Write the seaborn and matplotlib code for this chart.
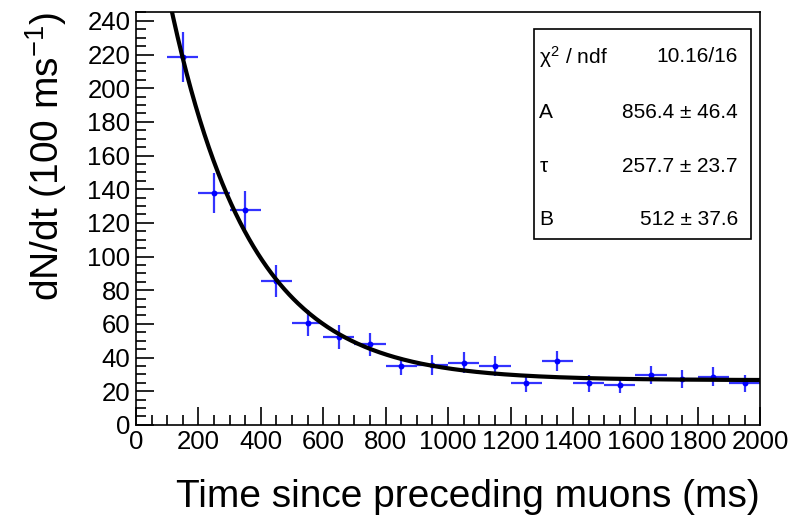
import numpy as np
import pandas as pd
import matplotlib
matplotlib.use("Agg")
import matplotlib.pyplot as plt
from matplotlib.ticker import MultipleLocator
import seaborn as sns

# binned decay times (bin centres, width 100 ms)
time_ms = [150, 250, 350, 450, 550, 650, 750, 850, 950, 1050,
           1150, 1250, 1350, 1450, 1550, 1650, 1750, 1850, 1950]
counts = [218.5, 137.7, 127.6, 85.6, 60.7, 52.4, 47.9, 35.0, 35.6, 37.0,
          35.0, 24.7, 38.0, 24.7, 23.7, 29.7, 27.1, 28.7, 24.7]
count_err = [15.0, 12.0, 11.3, 9.6, 7.7, 7.2, 6.9, 5.3, 6.0, 6.0,
             6.0, 5.1, 6.0, 5.0, 5.0, 5.5, 5.3, 5.5, 5.0]
bin_half = 50

# fit result drawn as curve  a*exp(-t/tau) + b
fit_a = 342.0
fit_tau = 257.7
fit_b = 26.5
stat_labels = [r"$\chi^2$ / ndf", "A", r"$\tau$", "B"]
stat_values = ["10.16/16", "856.4 \u00b1 46.4", "257.7 \u00b1 23.7", "512 \u00b1 37.6"]

sns.set_theme(style="ticks")
plt.rcParams['font.family'] = ['Liberation Sans', 'DejaVu Sans']
plt.rcParams['mathtext.fontset'] = 'custom'
plt.rcParams['mathtext.rm'] = 'Liberation Sans'
plt.rcParams['mathtext.it'] = 'Liberation Sans'
plt.rcParams['text.color'] = 'black'
plt.rcParams['axes.labelcolor'] = 'black'

df = pd.DataFrame({"t": time_ms, "n": counts, "err": count_err})
t_fit = np.linspace(100, 2000, 400)
fit_df = pd.DataFrame({"t": t_fit, "f": fit_a * np.exp(-t_fit / fit_tau) + fit_b})

fig = plt.figure(figsize=(7.91, 5.2), dpi=100)
ax = fig.add_axes([0.172, 0.183, 0.789, 0.794])

ax.errorbar(df["t"], df["n"], yerr=df["err"], xerr=bin_half, fmt="none",
            ecolor=(0.2, 0.2, 1.0), elinewidth=1.6, capsize=0, zorder=2)
sns.scatterplot(data=df, x="t", y="n", ax=ax, color="blue", marker="o",
                s=18, linewidth=0, zorder=3)
sns.lineplot(data=fit_df, x="t", y="f", ax=ax, color="black", linewidth=3,
             zorder=4)

ax.set_xlim(0, 2000)
ax.set_ylim(0, 245.3)
ax.xaxis.set_major_locator(MultipleLocator(200))
ax.xaxis.set_minor_locator(MultipleLocator(50))
ax.yaxis.set_major_locator(MultipleLocator(20))
ax.yaxis.set_minor_locator(MultipleLocator(5))
ax.tick_params(which="both", direction="in", labelsize=18.5, colors="black",
               top=False, right=False, width=1.2)
ax.tick_params(which="major", length=13)
ax.tick_params(which="minor", length=7)
ax.tick_params(axis="x", pad=4)
ax.tick_params(axis="y", pad=4)
for sp in ax.spines.values():
    sp.set_linewidth(1.2)
    sp.set_color("black")

ax.set_xlabel("Time since preceding muons (ms)", fontsize=28, labelpad=18,
              loc="right")
ax.set_ylabel("dN/dt (100 ms$^{-1}$)", fontsize=28, labelpad=13, loc="top")

# stats box
box = plt.Rectangle((534 / 791, 1 - 239 / 520), (751 - 534) / 791, (239 - 29) / 520,
                    transform=fig.transFigure, fill=True, facecolor="white",
                    edgecolor="black", linewidth=1.2, zorder=5)
fig.patches.append(box)
row_y = [57, 112, 167, 219]
for lab, val, y in zip(stat_labels, stat_values, row_y):
    fig.text(539 / 791, 1 - y / 520, lab, fontsize=15, va="center", ha="left", zorder=6)
    fig.text(738 / 791, 1 - y / 520, val, fontsize=15, va="center", ha="right", zorder=6)

fig.savefig("out.png", dpi=100)
